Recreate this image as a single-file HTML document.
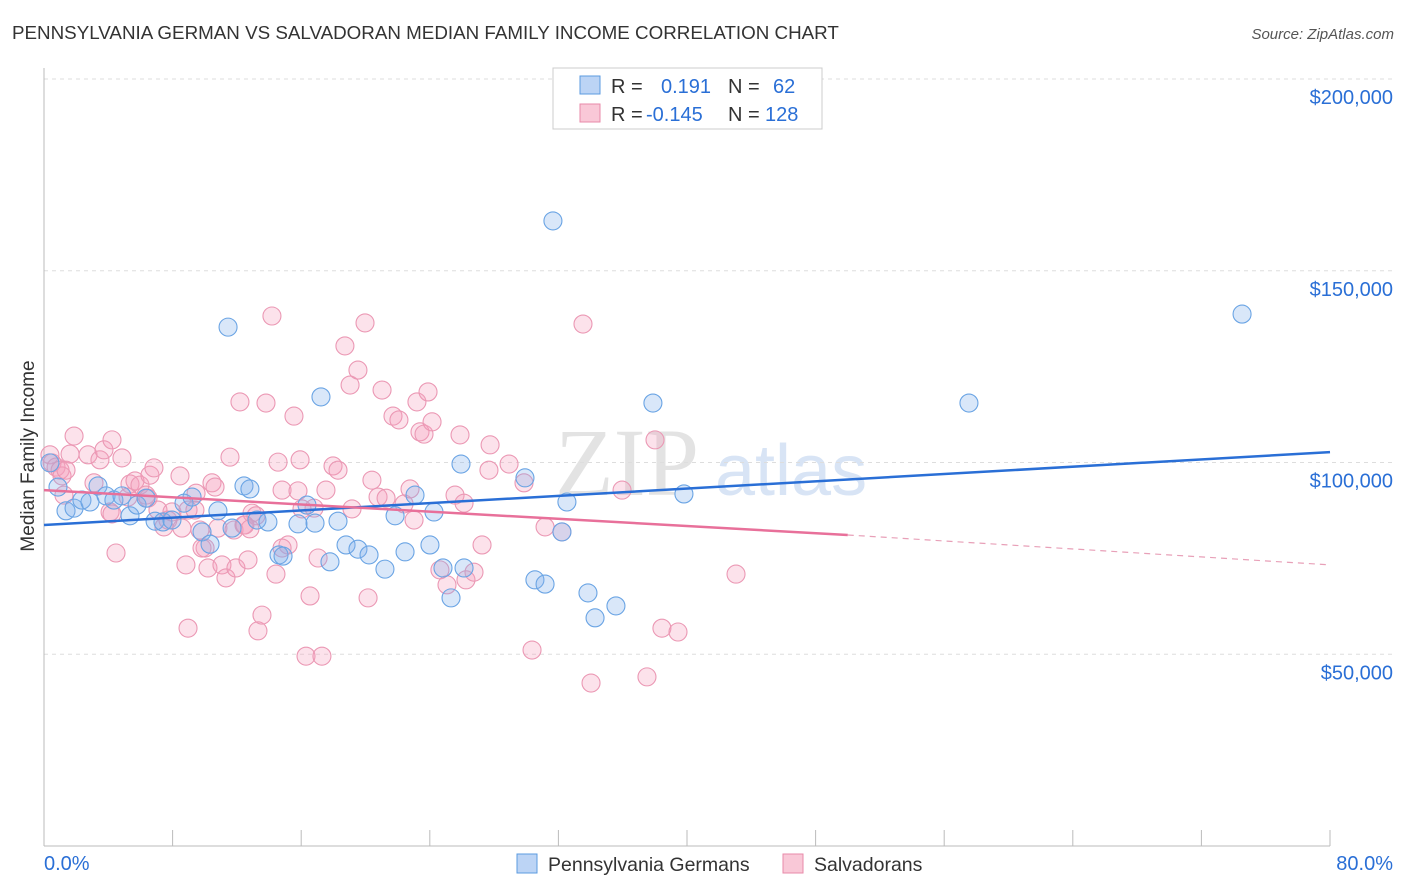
<!DOCTYPE html>
<html><head><meta charset="utf-8"><style>
body{margin:0;background:#fff;font-family:"Liberation Sans",sans-serif}
svg{display:block}
</style></head><body>
<svg id="chart" width="1406" height="892" viewBox="0 0 1406 892" xmlns="http://www.w3.org/2000/svg">
<text x="12" y="39" font-size="18.8" fill="#333">PENNSYLVANIA GERMAN VS SALVADORAN MEDIAN FAMILY INCOME CORRELATION CHART</text>
<text x="1394" y="39" font-size="15" fill="#555" text-anchor="end" font-style="italic">Source: ZipAtlas.com</text>
<g>
<text x="555" y="495" font-size="96" fill="#ddd" font-family="Liberation Serif,serif" opacity="0.8">ZIP</text>
<text x="715" y="495" font-size="72" fill="#c8daf2" opacity="0.7">atlas</text>
</g>
<g id="grid"></g>
<g id="axes"></g>
<g id="marks"></g>
<text transform="translate(34,456) rotate(-90)" font-size="19" fill="#333" text-anchor="middle">Median Family Income</text>
<g>
<rect x="553" y="68" width="269" height="61" fill="#fff" stroke="#ccc"/>
<rect x="580" y="76" width="20" height="18" fill="#bcd4f5" stroke="#5b9be0"/>
<rect x="580" y="104" width="20" height="18" fill="#f9c8d7" stroke="#e88aa8"/>
<text x="611" y="93" font-size="20" fill="#333">R = <tspan fill="#2a6fd6" x="661">0.191</tspan><tspan fill="#333" x="728">N = </tspan><tspan fill="#2a6fd6" x="773">62</tspan></text>
<text x="611" y="121" font-size="20" fill="#333">R = <tspan fill="#2a6fd6" x="646">-0.145</tspan><tspan fill="#333" x="728">N = </tspan><tspan fill="#2a6fd6" x="765">128</tspan></text>
</g>
<g>
<rect x="517" y="854" width="20" height="19" fill="#bcd4f5" stroke="#5b9be0"/>
<text x="548" y="871" font-size="19.5" fill="#333">Pennsylvania Germans</text>
<rect x="783" y="854" width="20" height="19" fill="#f9c8d7" stroke="#e88aa8"/>
<text x="814" y="871" font-size="19.5" fill="#333">Salvadorans</text>
</g>
</svg>
<script>
const blueX=[0.37,0.87,1.37,1.87,2.36,2.86,3.36,3.86,4.35,4.85,5.35,5.79,6.35,6.91,7.40,7.96,8.71,9.21,9.83,10.33,10.82,11.70,12.44,12.81,13.25,13.93,14.62,14.87,15.80,16.36,16.86,17.79,18.29,18.79,19.53,20.22,21.21,21.84,22.46,23.08,24.01,24.26,24.82,25.32,26.13,25.94,29.92,30.54,31.17,32.22,32.53,33.84,34.28,35.58,37.88,39.81,57.54,74.53,31.66,17.23,11.45];
const blueY=[99.9,93.6,87.4,88.1,90.2,89.7,93.9,91.3,90.2,91.3,86.1,88.9,90.7,84.7,84.5,85.0,89.4,91.0,81.9,78.7,87.4,82.9,93.9,93.1,85.0,84.5,75.9,75.6,84.0,88.9,84.2,74.1,84.7,78.5,77.4,75.9,72.2,86.1,76.7,91.5,78.5,87.1,72.5,64.7,72.5,99.6,96.0,69.4,68.3,81.9,89.7,66.0,59.5,62.6,115.5,91.8,115.5,138.7,163.0,117.1,135.3];
const pinkX=[0.37,0.50,0.75,1.00,1.12,1.37,1.87,1.62,2.74,3.11,3.48,3.73,4.23,4.11,4.48,4.85,5.35,5.66,5.97,6.35,6.59,6.84,7.09,7.46,7.71,7.96,8.46,8.58,8.96,8.83,8.96,9.46,9.70,10.02,10.20,10.45,10.64,10.82,11.07,11.32,11.57,11.82,11.94,12.19,12.44,12.69,12.94,13.19,13.31,13.56,13.81,14.18,14.43,14.56,14.81,15.18,15.55,15.80,16.05,16.30,16.55,16.80,17.05,17.29,17.54,17.98,18.29,18.72,19.04,19.16,19.53,19.97,20.16,20.40,20.78,21.03,21.28,21.71,22.08,22.40,22.77,23.02,23.20,23.39,23.64,23.89,24.14,24.63,25.07,25.57,25.88,26.13,26.25,26.75,27.25,27.68,27.75,28.93,29.86,30.36,31.17,32.22,33.53,34.03,35.96,37.51,38.01,38.44,39.44,43.05,12.50,6.47,9.39,5.23,9.83,4.23,1.24,12.81,14.81,15.93];
const pinkY=[102.0,99.9,98.8,98.0,96.5,98.0,106.9,102.2,102.0,94.7,100.7,103.3,105.9,87.1,76.4,101.2,94.4,95.2,94.1,91.5,96.7,98.6,87.6,83.2,85.0,87.1,96.5,82.9,87.6,73.3,56.8,92.0,82.4,77.7,72.5,94.7,93.6,82.9,73.3,69.9,101.4,82.4,72.5,115.8,83.7,74.6,86.8,86.1,56.1,60.2,115.5,138.2,70.9,100.1,92.8,78.5,112.1,92.6,87.9,49.5,65.2,88.1,75.1,49.5,92.8,99.1,98.0,130.4,120.2,87.9,124.1,136.4,64.7,95.4,91.0,118.9,90.7,112.1,111.1,89.2,93.1,85.0,115.8,108.0,107.4,118.4,110.6,72.0,68.1,91.5,107.2,89.4,69.4,71.4,78.5,98.0,104.6,99.6,94.7,51.1,83.2,81.9,136.1,42.5,92.8,44.1,105.9,56.8,55.8,70.9,83.7,90.7,87.6,91.0,77.7,86.6,91.5,82.7,77.7,100.7];
const blueTrendX=[0,80];
const blueTrendY=[83.7,102.7];
const pinkTrendX=[0,50,80];
const pinkTrendY=[92.8,81.1,73.3];
const yTicks=[50,100,150,200];
const yTickLabels=["$50,000","$100,000","$150,000","$200,000"];
const xTicks=[0,8,16,24,32,40,48,56,64,72,80];
const NS="http://www.w3.org/2000/svg";
const sx=v=>44+v/80*1286;
const sy=v=>846-v*191.75/50;
function mk(tag,attrs,parent){const e=document.createElementNS(NS,tag);for(const k in attrs)e.setAttribute(k,attrs[k]);parent.appendChild(e);return e;}
const grid=document.getElementById('grid'),axes=document.getElementById('axes'),marks=document.getElementById('marks');
yTicks.forEach((t,i)=>{
 const l=mk('line',{x1:44,x2:1393,y1:sy(t),y2:sy(t),stroke:'#ddd','stroke-dasharray':'4,4'},grid);
 
 
 const tx=mk('text',{x:1393,y:sy(t)+25,'font-size':20,fill:'#2a6fd6','text-anchor':'end'},axes);
 tx.textContent=yTickLabels[i];
 
 
});
const ya=mk('line',{x1:44,x2:44,y1:68,y2:846,stroke:'#bbb'},axes);


const xa=mk('line',{x1:44,x2:1330,y1:846,y2:846,stroke:'#bbb'},axes);


xTicks.forEach(t=>{
 const l=mk('line',{x1:sx(t),x2:sx(t),y1:830,y2:846,stroke:'#bbb'},axes);
 
 
});
const xl0=mk('text',{x:44,y:870,'font-size':20,fill:'#2a6fd6'},axes);xl0.textContent='0.0%';


const xl1=mk('text',{x:1393,y:870,'font-size':20,fill:'#2a6fd6','text-anchor':'end'},axes);xl1.textContent='80.0%';


pinkX.forEach((x,i)=>{
 const c=mk('circle',{cx:sx(x),cy:sy(pinkY[i]),r:9,fill:'rgba(244,160,188,0.3)',stroke:'#eb98b4','stroke-width':1.1},marks);
 
 
});
blueX.forEach((x,i)=>{
 const c=mk('circle',{cx:sx(x),cy:sy(blueY[i]),r:9,fill:'rgba(130,175,235,0.3)',stroke:'#6aa4e4','stroke-width':1.1},marks);
 
 
});
const bl=mk('line',{x1:sx(blueTrendX[0]),y1:sy(blueTrendY[0]),x2:sx(blueTrendX[1]),y2:sy(blueTrendY[1]),stroke:'#2a6fd6','stroke-width':2.5},marks);


const pl=mk('line',{x1:sx(pinkTrendX[0]),y1:sy(pinkTrendY[0]),x2:sx(pinkTrendX[1]),y2:sy(pinkTrendY[1]),stroke:'#e8709a','stroke-width':2.5},marks);


const pd=mk('line',{x1:sx(pinkTrendX[1]),y1:sy(pinkTrendY[1]),x2:sx(pinkTrendX[2]),y2:sy(pinkTrendY[2]),stroke:'#e8a0b8','stroke-width':1.2,'stroke-dasharray':'6,5'},marks);


</script>
</body></html>
